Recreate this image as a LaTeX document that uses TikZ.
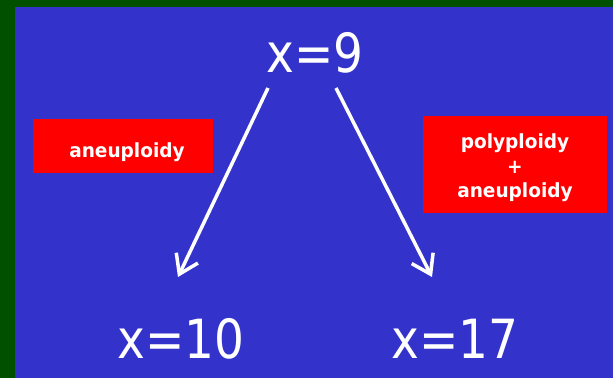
\documentclass[tikz,border=0pt]{standalone}
\usepackage{fontspec}
\setmainfont{DejaVu Sans}
\newfontfamily\bigfont[FakeStretch=0.87]{DejaVu Sans}
\newfontfamily\boxfont[FakeStretch=0.95]{DejaVu Sans Bold}
\usetikzlibrary{arrows.meta}
\definecolor{bggreen}{RGB}{0,80,0}
\definecolor{bgblue}{RGB}{51,51,204}
\definecolor{boxred}{RGB}{255,0,0}
\tikzset{
  bigtext/.style={text=white, font=\bigfont\fontsize{54}{54}\selectfont, inner sep=0pt, anchor=base},
  redbox/.style={fill=boxred, draw=none},
  boxtext/.style={text=white, font=\boxfont\fontsize{19.5}{24.5}\selectfont, align=center, inner sep=0pt, anchor=base},
  arr/.style={draw=white, line width=3.5pt, -{Straight Barb[length=18pt,width=24pt,line width=3.5pt]}}
}
\begin{document}
\begin{tikzpicture}[x=1pt,y=-1pt]
\useasboundingbox (0,0) rectangle (613,378);
\fill[bggreen] (0,0) rectangle (613,378);
\fill[bgblue] (15,7) rectangle (613,378);
\node[bigtext] (x9) at (315,72) {x=9};
\node[bigtext] (x10) at (181,358) {x=10};
\node[bigtext] (x17) at (455,358) {x=17};
\node[redbox, minimum width=180pt, minimum height=54pt] (b1) at (123,146) {};
\node[boxtext] (t1) at (127,157) {aneuploidy};
\node[redbox, minimum width=184pt, minimum height=97pt] (b2) at (515,164.5) {};
\node[boxtext] (t2) at (515,148) {polyploidy};
\node[boxtext] (t3) at (515,173) {+};
\node[boxtext] (t4) at (515,197) {aneuploidy};
\coordinate (s1) at (268,88);
\coordinate (e1) at (178,277);
\coordinate (s2) at (336,88);
\coordinate (e2) at (432,277);
\draw[arr] (s1) -- (e1);
\draw[arr] (s2) -- (e2);
\end{tikzpicture}
\end{document}
